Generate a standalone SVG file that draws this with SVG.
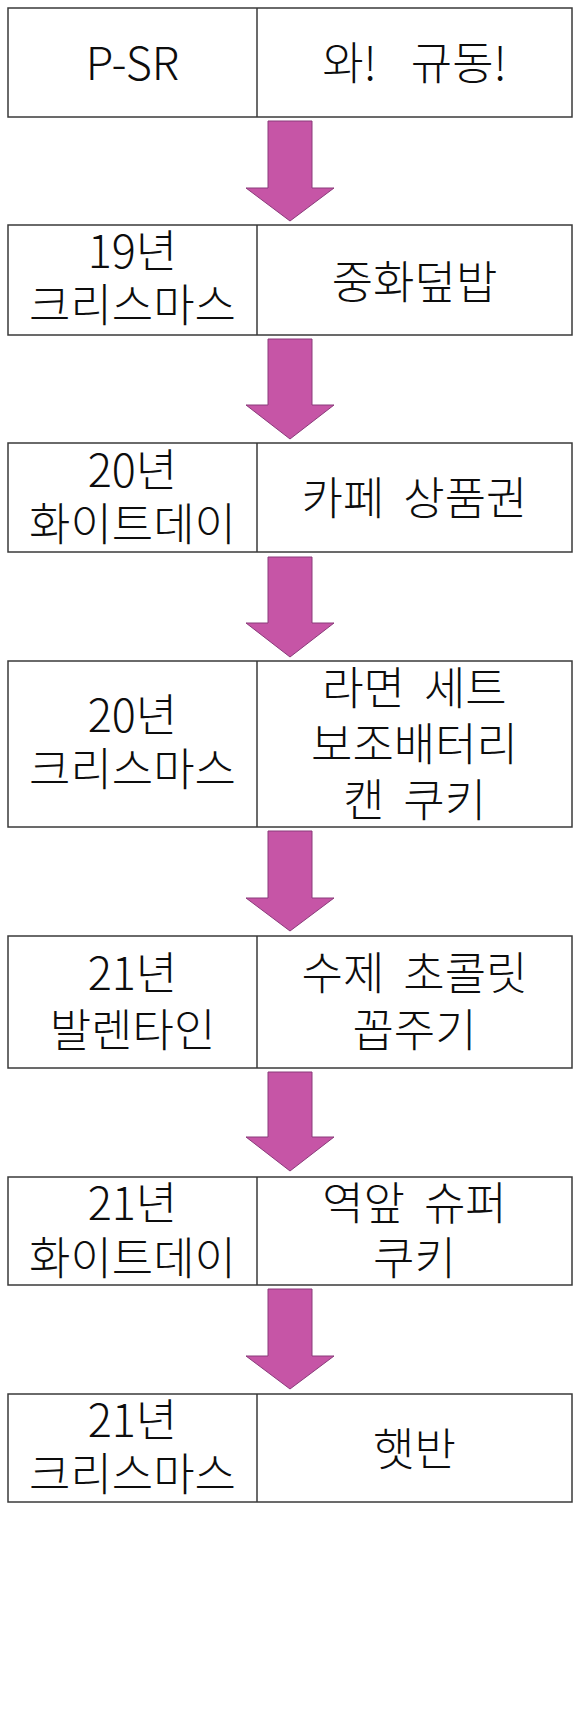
<svg xmlns="http://www.w3.org/2000/svg" width="579" height="1736" viewBox="0 0 579 1736">
<style>
  .box { fill: #ffffff; stroke: #3a3a3a; stroke-width: 1.5; }
  .div { stroke: #3a3a3a; stroke-width: 1.5; }
  .t { font-family: "Noto Sans CJK KR", "Noto Sans", sans-serif; font-size: 45px; font-weight: 300; fill: #0d0d0d; text-anchor: middle; word-spacing: 9px; }
  .wide { word-spacing: 24px; }
  .arrow { fill: #C655A6; stroke: #8A3A7A; stroke-width: 1; stroke-linejoin: miter; }
</style>
<rect x="0" y="0" width="579" height="1736" fill="#ffffff"/>

<g id="node1">
  <rect class="box" x="8" y="8" width="564" height="109"/>
  <line class="div" x1="257" y1="8" x2="257" y2="117"/>
  <text class="t" x="132.5" y="80">P-SR</text>
  <text class="t wide" x="414.5" y="80">와! 규동!</text>
</g>

<g id="node2">
  <rect class="box" x="8" y="225" width="564" height="110"/>
  <line class="div" x1="257" y1="225" x2="257" y2="335"/>
  <text class="t" x="132.5" y="268">19년</text>
  <text class="t" x="132.5" y="322">크리스마스</text>
  <text class="t" x="414.5" y="299">중화덮밥</text>
</g>

<g id="node3">
  <rect class="box" x="8" y="443" width="564" height="109"/>
  <line class="div" x1="257" y1="443" x2="257" y2="552"/>
  <text class="t" x="132.5" y="487">20년</text>
  <text class="t" x="132.5" y="541">화이트데이</text>
  <text class="t" x="414.5" y="515">카페 상품권</text>
</g>

<g id="node4">
  <rect class="box" x="8" y="661" width="564" height="166"/>
  <line class="div" x1="257" y1="661" x2="257" y2="827"/>
  <text class="t" x="132.5" y="732">20년</text>
  <text class="t" x="132.5" y="786">크리스마스</text>
  <text class="t" x="414.5" y="705">라면 세트</text>
  <text class="t" x="414.5" y="761">보조배터리</text>
  <text class="t" x="414.5" y="817">캔 쿠키</text>
</g>

<g id="node5">
  <rect class="box" x="8" y="936" width="564" height="132"/>
  <line class="div" x1="257" y1="936" x2="257" y2="1068"/>
  <text class="t" x="132.5" y="990">21년</text>
  <text class="t" x="132.5" y="1047">발렌타인</text>
  <text class="t" x="414.5" y="990">수제 초콜릿</text>
  <text class="t" x="414.5" y="1047">꼽주기</text>
</g>

<g id="node6">
  <rect class="box" x="8" y="1177" width="564" height="108"/>
  <line class="div" x1="257" y1="1177" x2="257" y2="1285"/>
  <text class="t" x="132.5" y="1220">21년</text>
  <text class="t" x="132.5" y="1275">화이트데이</text>
  <text class="t" x="414.5" y="1220">역앞 슈퍼</text>
  <text class="t" x="414.5" y="1275">쿠키</text>
</g>

<g id="node7">
  <rect class="box" x="8" y="1394" width="564" height="108"/>
  <line class="div" x1="257" y1="1394" x2="257" y2="1502"/>
  <text class="t" x="132.5" y="1437">21년</text>
  <text class="t" x="132.5" y="1491">크리스마스</text>
  <text class="t" x="414.5" y="1466">햇반</text>
</g>

<g id="connectors">
  <polygon class="arrow" points="268,121 312,121 312,188 334,188 290,221 246,188 268,188"/>
  <polygon class="arrow" points="268,339 312,339 312,405 334,405 290,439 246,405 268,405"/>
  <polygon class="arrow" points="268,557 312,557 312,623 334,623 290,657 246,623 268,623"/>
  <polygon class="arrow" points="268,831 312,831 312,898 334,898 290,931 246,898 268,898"/>
  <polygon class="arrow" points="268,1072 312,1072 312,1137 334,1137 290,1171 246,1137 268,1137"/>
  <polygon class="arrow" points="268,1289 312,1289 312,1356 334,1356 290,1389 246,1356 268,1356"/>
</g>
</svg>
